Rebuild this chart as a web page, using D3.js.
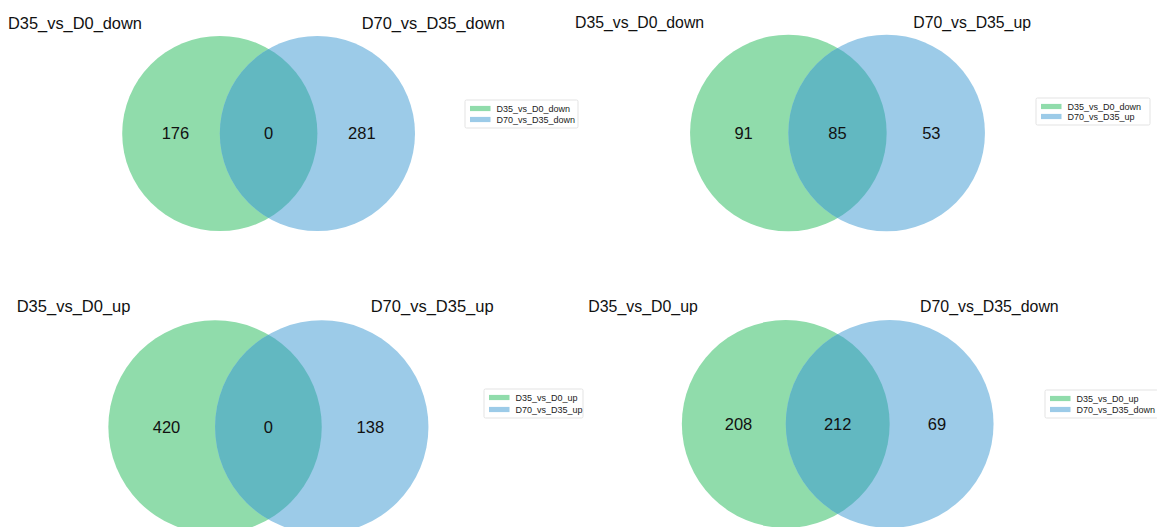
<!DOCTYPE html>
<html>
<head>
<meta charset="utf-8">
<script src="https://cdn.jsdelivr.net/npm/d3@7"></script>
<style>
  html, body { margin: 0; padding: 0; background: #fff; }
  svg { display: block; font-family: "Liberation Sans", Arial, Helvetica, sans-serif; }
</style>
</head>
<body>
<svg id="chart" width="1157" height="527"></svg>
<script>
// Set names for the left and right circle of each of the four Venn diagrams
const leftSets  = ["D35_vs_D0_down", "D35_vs_D0_down", "D35_vs_D0_up", "D35_vs_D0_up"];
const rightSets = ["D70_vs_D35_down", "D70_vs_D35_up", "D70_vs_D35_up", "D70_vs_D35_down"];
// Region counts: left only, shared, right only
const onlyLeft  = [176, 91, 420, 208];
const shared    = [0, 85, 0, 212];
const onlyRight = [281, 53, 138, 69];

// Fill colours
const greenFill = "#90dcab";
const blueFill  = "#9ccbe8";
const lensFill  = "#62b8c1";

// Panel geometry (lens centre, radius, titles, legend box)
const layout = [
  { cx: 268.6, cy: 133.5, r: 97.6,  tl: 8,     tr: 361.7, ty: 29,    fs: 16.4, lx: 465,  ly: 100, lw: 113, lh: 28 },
  { cx: 837.5, cy: 133,   r: 98.3,  tl: 575,   tr: 913.3, ty: 27.7,  fs: 15.8, lx: 1036, ly: 98,  lw: 114, lh: 27 },
  { cx: 268.4, cy: 427,   r: 106.7, tl: 16.7,  tr: 370.7, ty: 311.7, fs: 16.5, lx: 484,  ly: 389, lw: 99,  lh: 29 },
  { cx: 837.7, cy: 424,   r: 103.9, tl: 588.3, tr: 920,   ty: 311.7, fs: 15.9, lx: 1045, ly: 390, lw: 113, lh: 28 }
];

const svg = d3.select("#chart");
const defs = svg.append("defs");

layout.forEach((p, i) => {
  // Position along the axis joining the two circles, in units of the radius
  const x = d3.scaleLinear().domain([-1, 1]).range([p.cx - p.r, p.cx + p.r]);
  const g = svg.append("g");

  const circles = [
    { key: "L", cx: x(-0.5), fill: greenFill },
    { key: "R", cx: x(0.5),  fill: blueFill }
  ];

  g.selectAll("circle.set")
    .data(circles)
    .join("circle")
    .attr("class", "set")
    .attr("cx", d => d.cx)
    .attr("cy", p.cy)
    .attr("r", p.r)
    .attr("fill", d => d.fill);

  // Lens: the right circle clipped to the left one
  const clipId = "clipL" + i;
  defs.append("clipPath").attr("id", clipId)
    .append("circle").attr("cx", x(-0.5)).attr("cy", p.cy).attr("r", p.r);
  g.append("circle")
    .attr("cx", x(0.5)).attr("cy", p.cy).attr("r", p.r)
    .attr("fill", lensFill)
    .attr("clip-path", `url(#${clipId})`);

  // Region counts
  const counts = [
    { v: onlyLeft[i],  pos: -0.955 },
    { v: shared[i],    pos: 0 },
    { v: onlyRight[i], pos: 0.955 }
  ];
  g.selectAll("text.count")
    .data(counts)
    .join("text")
    .attr("class", "count")
    .attr("x", d => x(d.pos))
    .attr("y", p.cy)
    .attr("dy", "0.35em")
    .attr("text-anchor", "middle")
    .attr("font-size", 16.5)
    .attr("fill", "#111")
    .text(d => d.v);

  // Set titles
  g.append("text")
    .attr("x", p.tl).attr("y", p.ty)
    .attr("font-size", p.fs).attr("fill", "#111")
    .text(leftSets[i]);
  g.append("text")
    .attr("x", p.tr).attr("y", p.ty)
    .attr("font-size", p.fs).attr("fill", "#111")
    .text(rightSets[i]);

  // Legend
  const lg = g.append("g").attr("transform", `translate(${p.lx},${p.ly})`);
  lg.append("rect")
    .attr("width", p.lw).attr("height", p.lh)
    .attr("rx", 1.5)
    .attr("fill", "#fff").attr("stroke", "#dcdcdc").attr("stroke-width", 0.8);
  const items = [
    { name: leftSets[i],  fill: greenFill },
    { name: rightSets[i], fill: blueFill }
  ];
  const rowY = d3.scalePoint().domain([0, 1]).range([8.5, p.lh - 8.5]);
  const row = lg.selectAll("g.item")
    .data(items)
    .join("g")
    .attr("class", "item")
    .attr("transform", (d, k) => `translate(5,${rowY(k)})`);
  row.append("rect")
    .attr("y", -2.6).attr("width", 20.5).attr("height", 5.2)
    .attr("fill", d => d.fill);
  row.append("text")
    .attr("x", 26.5).attr("dy", "0.35em")
    .attr("font-size", 9).attr("fill", "#222")
    .text(d => d.name);
});
</script>
</body>
</html>
